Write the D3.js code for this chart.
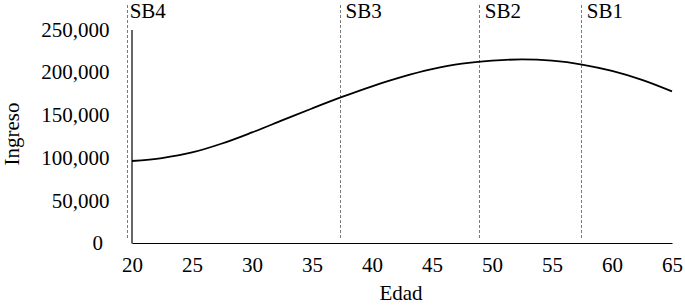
<!DOCTYPE html>
<html>
<head>
<meta charset="utf-8">
<script src="https://cdn.jsdelivr.net/npm/d3@7"></script>
<style>
	body { margin: 0; background: #fff; }
	svg text { font-family: 'Liberation Serif', 'DejaVu Serif', 'Times New Roman', Times, serif; font-size: 21px; fill: #000; }
</style>
</head>
<body>
<div id="chart"></div>
<script>

// ages (x) and income (y)
var edades = [20, 22.5, 25, 27.5, 30, 32.5, 35, 37.5, 40, 42.5, 45, 47.5, 50, 52.5, 55, 57.5, 60, 62.5, 65];
var ingresos = [96000, 99500, 106000, 116500, 129500, 143500, 157500, 171000, 183500, 194500, 203500, 210000, 213500, 215000, 213500, 209000, 201500, 191000, 177500];

// vertical markers
var marcas = ["SB4", "SB3", "SB2", "SB1"];
var marcasEdad = [19.6, 37.3, 48.9, 57.4];

var xTicks = [20, 25, 30, 35, 40, 45, 50, 55, 60, 65];
var yTicks = [0, 50000, 100000, 150000, 200000, 250000];

var fuente = "'Liberation Serif', 'DejaVu Serif', 'Times New Roman', Times, serif";

function init() {

	var width = 685;
	var height = 305;

	var svg = d3.select("div#chart")
		.append("svg")
		.attr("width", width)
		.attr("height", height)
		.attr("font-family", fuente)
		.attr("font-size", 21);

	var x = d3.scaleLinear().domain([20, 65]).range([132, 672]);
	var y = d3.scaleLinear().domain([0, 250000]).range([243, 29.5]);

	var fmt = d3.format(",");

	// y axis
	var yAxis = svg.append("g")
		.attr("transform", "translate(131.5,0)")
		.call(d3.axisLeft(y).tickValues(yTicks).tickSize(0).tickPadding(22).tickFormat(fmt))
		.attr("font-family", fuente)
		.attr("font-size", 21);
	yAxis.select(".domain").attr("stroke", "#000").attr("stroke-width", 1.2);
	yAxis.selectAll("text")
		.attr("dx", function(d) { return d === 0 ? -6.5 : 0; });

	// x axis
	var xAxis = svg.append("g")
		.attr("transform", "translate(0,243)")
		.call(d3.axisBottom(x).tickValues(xTicks).tickSize(0).tickPadding(14))
		.attr("font-family", fuente)
		.attr("font-size", 21);
	xAxis.select(".domain").attr("stroke", "#000").attr("stroke-width", 1.2);

	// dashed markers
	var m = svg.append("g");
	m.selectAll("line")
		.data(marcasEdad)
		.enter()
		.append("line")
		.attr("x1", function(d) { return Math.round(x(d)) + 0.5; })
		.attr("x2", function(d) { return Math.round(x(d)) + 0.5; })
		.attr("y1", 5)
		.attr("y2", 240)
		.attr("stroke", "#7a7a7a")
		.attr("stroke-width", 1)
		.attr("stroke-dasharray", "3,2");

	m.selectAll("text")
		.data(marcas)
		.enter()
		.append("text")
		.attr("x", function(d, i) { return x(marcasEdad[i]) + (i === 0 ? 2.5 : 6); })
		.attr("y", 18)
		.text(function(d) { return d; });

	// curve
	var line = d3.line()
		.x(function(d, i) { return x(edades[i]); })
		.y(function(d) { return y(d); })
		.curve(d3.curveCatmullRom);

	svg.append("path")
		.attr("d", line(ingresos))
		.attr("fill", "none")
		.attr("stroke", "#000")
		.attr("stroke-width", 1.8);

	// axis titles
	svg.append("text")
		.attr("text-anchor", "middle")
		.attr("x", 401)
		.attr("y", 300)
		.text("Edad");

	svg.append("text")
		.attr("text-anchor", "middle")
		.attr("transform", "translate(19,134) rotate(-90)")
		.text("Ingreso");
}

init();
</script>
</body>
</html>
